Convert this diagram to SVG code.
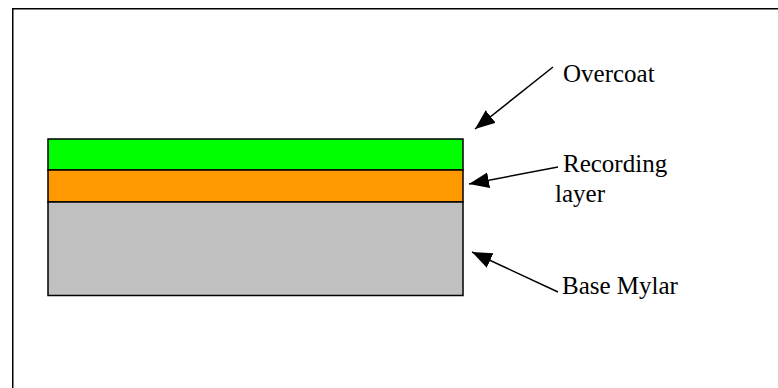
<svg xmlns="http://www.w3.org/2000/svg" width="778" height="388" viewBox="0 0 778 388">
<style>
.lay{stroke:#000;stroke-width:1.5}
.lbl{font-family:"Liberation Serif","Times New Roman",serif;font-size:25px;fill:#000}
.con line{stroke:#000;stroke-width:1.5}
</style>
<defs>
<marker id="ah" markerWidth="22" markerHeight="16" refX="20" refY="8" orient="auto" markerUnits="userSpaceOnUse">
<path d="M0,0 L20,8 L0,16 Z" fill="#000"/>
</marker>
</defs>
<rect width="778" height="388" fill="#fff"/>
<path d="M12.75,388 V8.75 H778" fill="none" stroke="#000" stroke-width="1.5"/>
<g id="overcoat"><rect class="lay" x="48" y="139" width="415" height="31" fill="#00FF00"/></g>
<g id="recording"><rect class="lay" x="48" y="170" width="415" height="32" fill="#FF9900"/></g>
<g id="base"><rect class="lay" x="48" y="202" width="415" height="93.5" fill="#C0C0C0"/></g>
<g id="labels">
<text class="lbl" x="563" y="82">Overcoat</text>
<text class="lbl" x="563" y="172">Recording</text>
<text class="lbl" x="555" y="202">layer</text>
<text class="lbl" x="562" y="294">Base Mylar</text>
</g>
<g class="con" id="connectors">
<line x1="553" y1="67" x2="475" y2="129" marker-end="url(#ah)"/>
<line x1="558" y1="167" x2="469" y2="184" marker-end="url(#ah)"/>
<line x1="558" y1="292" x2="472" y2="252" marker-end="url(#ah)"/>
</g>
</svg>
